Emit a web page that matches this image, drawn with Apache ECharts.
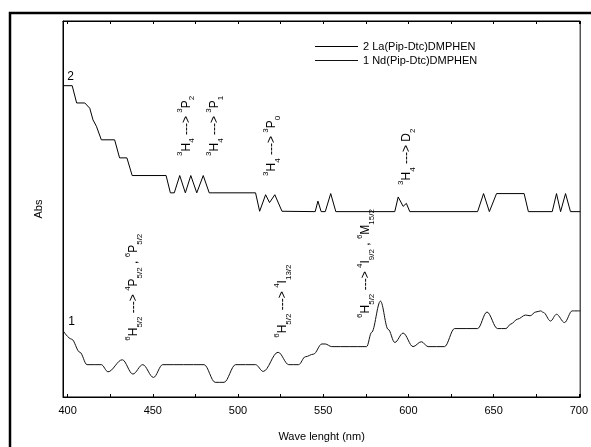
<!DOCTYPE html>
<html lang="en">
<head>
    <meta charset="UTF-8">
    <title>Abs spectra</title>
    <style>
        html, body { margin: 0; padding: 0; background: #fff; }
    </style>
</head>
<body>
<script src="https://cdn.jsdelivr.net/npm/echarts@6/dist/echarts.min.js"></script>
<div id="main" style="width:591px;height:447px;"></div>

<script type="text/javascript">
    // curve 2 : La(Pip-Dtc)DMPHEN  [wavelength nm, relative abs]
    var laData = [
        [397.3, 0.828], [402.7, 0.828], [405.3, 0.782], [410.1, 0.782], [413.0, 0.768],
        [414.9, 0.737], [416.9, 0.720], [419.8, 0.684], [427.6, 0.684], [430.5, 0.636],
        [434.8, 0.636], [437.9, 0.589], [457.8, 0.589], [460.3, 0.543], [462.6, 0.543],
        [465.8, 0.589], [469.1, 0.543], [472.3, 0.589], [475.8, 0.543], [479.6, 0.589],
        [483.1, 0.543], [484.8, 0.543], [510.3, 0.543], [512.7, 0.494], [516.2, 0.538],
        [518.5, 0.517], [521.6, 0.538], [525.8, 0.494], [545.3, 0.493], [546.9, 0.521],
        [548.8, 0.493], [551.2, 0.493], [554.4, 0.541], [557.4, 0.493], [592.0, 0.493],
        [594.0, 0.532], [596.9, 0.507], [598.8, 0.515], [600.8, 0.493], [640.6, 0.493],
        [644.1, 0.541], [647.5, 0.493], [651.7, 0.541], [667.9, 0.541], [670.4, 0.493],
        [684.4, 0.493], [686.9, 0.541], [689.3, 0.493], [692.2, 0.541], [695.1, 0.493],
        [700.8, 0.493]
    ];

    // curve 1 : Nd(Pip-Dtc)DMPHEN
    var ndData = [
        [397.4, 0.176], [402.3, 0.154], [407.2, 0.119], [411.4, 0.086], [419.8, 0.086],
        [423.7, 0.067], [432.1, 0.099], [438.3, 0.061], [444.1, 0.086], [450.4, 0.052],
        [455.8, 0.086], [480.1, 0.086], [486.6, 0.039], [491.8, 0.039], [498.6, 0.086],
        [510.3, 0.086], [514.8, 0.068], [523.5, 0.119], [529.8, 0.086], [535.6, 0.086],
        [539.5, 0.107], [544.3, 0.114], [549.2, 0.141], [551.2, 0.141], [555.0, 0.134],
        [575.5, 0.134], [578.4, 0.172], [583.6, 0.255], [588.1, 0.180], [592.0, 0.145],
        [596.9, 0.170], [602.7, 0.134], [607.6, 0.147], [611.5, 0.134], [621.2, 0.134],
        [627.1, 0.182], [640.6, 0.182], [646.1, 0.226], [652.3, 0.182], [657.2, 0.182],
        [660.1, 0.194], [664.0, 0.207], [668.8, 0.218], [671.4, 0.216], [674.7, 0.226],
        [677.6, 0.229], [679.2, 0.225], [683.4, 0.202], [686.9, 0.220], [691.6, 0.198],
        [696.1, 0.229], [700.8, 0.229]
    ];

    var seriesNames = ['2 La(Pip-Dtc)DMPHEN', '1 Nd(Pip-Dtc)DMPHEN'];

    // transition labels, anchored at [nm, abs] (centre of the rotated text)
    var transitions = [
        [469.6, 0.721, '{sup|3}H{sub|4} ---> {sup|3}P{sub|2}'],
        [486.2, 0.721, '{sup|3}H{sub|4} ---> {sup|3}P{sub|1}'],
        [520.0, 0.668, '{sup|3}H{sub|4} ---> {sup|3}P{sub|0}'],
        [599.0, 0.639, '{sup|3}H{sub|4} ---> D{sub|2}'],
        [438.7, 0.292, '{sup|6}H{sub|5/2} ---> {sup|4}P{sub|5/2} , {sup|6}P{sub|5/2}'],
        [526.3, 0.255, '{sup|6}H{sub|5/2} ---> {sup|4}I{sub|13/2}'],
        [574.7, 0.355, '{sup|6}H{sub|5/2} ---> {sup|4}I{sub|9/2} , {sup|6}M{sub|15/2}']
    ];

    var curveTags = [
        [401.8, 0.852, '2'],
        [402.3, 0.199, '1']
    ];

    var xMin = 397.3, xMax = 700.8;
    var font = "'Liberation Sans', Arial, sans-serif";

    var myChart = echarts.init(document.getElementById('main'));

    var xAxisBase = {
        type: 'value',
        min: xMin,
        max: xMax,
        minInterval: 25,
        maxInterval: 25,
        axisLine: {show: true, lineStyle: {color: '#000', width: 1}},
        axisTick: {show: true, inside: true, length: 3, lineStyle: {color: '#000'}},
        splitLine: {show: false}
    };

    option = {
        backgroundColor: '#fff',
        animation: false,
        textStyle: {fontFamily: font},
        grid: {
            left: 63, right: 8, top: 21, bottom: 49,
            show: true, borderColor: '#000', borderWidth: 1
        },
        legend: {
            orient: 'vertical',
            left: 315,
            top: 41,
            padding: 0,
            icon: 'rect',
            symbolKeepAspect: false,
            itemWidth: 43,
            itemHeight: 1,
            itemGap: 3,
            textStyle: {fontSize: 11, color: '#000', fontFamily: font},
            data: seriesNames
        },
        xAxis: [
            Object.assign({}, xAxisBase, {
                position: 'bottom',
                name: 'Wave lenght (nm)',
                nameLocation: 'middle',
                nameGap: 34,
                nameTextStyle: {fontSize: 11, color: '#000', fontFamily: font},
                axisLabel: {
                    margin: 8, fontSize: 11, color: '#000', fontFamily: font,
                    formatter: function (v) {
                        return Math.abs(v % 50) < 1e-6 ? String(v) : '';
                    }
                }
            }),
            Object.assign({}, xAxisBase, {
                position: 'top',
                axisLabel: {show: false}
            })
        ],
        yAxis: {
            type: 'value',
            min: 0,
            max: 1,
            name: 'Abs',
            nameLocation: 'middle',
            nameGap: 19,
            nameRotate: 90,
            nameTextStyle: {fontSize: 11, color: '#000', fontFamily: font},
            axisLine: {show: true, lineStyle: {color: '#000', width: 1}},
            axisTick: {show: false},
            axisLabel: {show: false},
            splitLine: {show: false}
        },
        series: [
            {
                name: seriesNames[0],
                type: 'line',
                data: laData,
                symbol: 'none',
                lineStyle: {color: '#000', width: 1},
                itemStyle: {color: '#000'}
            },
            {
                name: seriesNames[1],
                type: 'line',
                data: ndData,
                symbol: 'none',
                smooth: 0.35,
                smoothMonotone: 'x',
                lineStyle: {color: '#111', width: 1},
                itemStyle: {color: '#111'}
            }
        ]
    };
    myChart.setOption(option);

    // annotations placed via the grid's coordinate system
    var rich = {
        sup: {fontSize: 8, lineHeight: 9, verticalAlign: 'top', fill: '#000', fontFamily: font},
        sub: {fontSize: 8, lineHeight: 9, verticalAlign: 'bottom', fill: '#000', fontFamily: font}
    };
    var graphics = [{
        type: 'rect',
        shape: {x: 10, y: 13, width: 640, height: 500},
        style: {fill: 'none', stroke: '#000', lineWidth: 2.5},
        silent: true
    }];
    transitions.forEach(function (t) {
        var p = myChart.convertToPixel({gridIndex: 0}, [t[0], t[1]]);
        graphics.push({
            type: 'text',
            x: p[0],
            y: p[1],
            rotation: Math.PI / 2,
            silent: true,
            style: {
                text: t[2],
                rich: rich,
                fontSize: 12,
                lineHeight: 20,
                fontFamily: font,
                fill: '#000',
                align: 'center',
                verticalAlign: 'middle'
            }
        });
    });
    curveTags.forEach(function (t) {
        var p = myChart.convertToPixel({gridIndex: 0}, [t[0], t[1]]);
        graphics.push({
            type: 'text',
            x: p[0],
            y: p[1],
            silent: true,
            style: {
                text: t[2], fontSize: 12, fontFamily: font, fill: '#000',
                align: 'center', verticalAlign: 'middle'
            }
        });
    });
    myChart.setOption({graphic: graphics});
</script>
</body>
</html>
